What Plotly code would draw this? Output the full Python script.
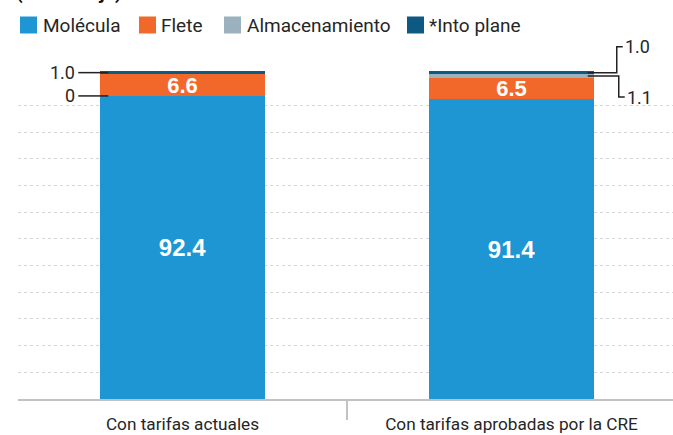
import plotly.graph_objects as go

# ---------------- data ----------------
categories = ["Con tarifas actuales", "Con tarifas aprobadas por la CRE"]
series_names = ["Molécula", "Flete", "Almacenamiento", "*Into plane"]
molecula = [92.4, 91.4]
flete = [6.6, 6.5]
almacenamiento = [0.0, 1.1]
into_plane = [1.0, 1.0]
title_text = "(Porcentaje)"

# ---------------- styles ----------------
colors = ["#1e96d4", "#f2682b", "#9bb1bd", "#0c5a82"]
NARROW = "Roboto, Liberation Sans, sans-serif"
BOLDNUM = "Liberation Sans, Arial, sans-serif"
TXT = "#262626"

W, H = 673, 435
ML, MR, MT, MB = 18, 0, 30, 36
PLOT_W = W - ML - MR
PLOT_H = H - MT - MB
PX_PER_UNIT = 3.28
YMAX = PLOT_H / PX_PER_UNIT
CAT_PX = 329
XMIN = -0.5
XMAX = XMIN + PLOT_W / CAT_PX
BAR_W = 0.5
GRID_STEP = 26.67 / PX_PER_UNIT


def ux(px):  # pixel length -> x data units
    return px / CAT_PX


def uy(px):  # pixel length -> y data units
    return px / PX_PER_UNIT


def paper_x(px):
    return (px - ML) / PLOT_W


def paper_y(py):
    return (H - MB - py) / PLOT_H


xs = list(range(len(categories)))
series = [molecula, flete, almacenamiento, into_plane]
text_sizes = [24, 22, None, None]

fig = go.Figure()
for name, vals, col, tsize in zip(series_names, series, colors, text_sizes):
    kw = {}
    if tsize:
        kw = dict(
            text=[f"{v:.1f}" for v in vals],
            textposition="inside",
            insidetextanchor="middle",
            textangle=0,
            constraintext="none",
            textfont=dict(family=BOLDNUM, size=tsize, color="white", weight="bold"),
        )
    fig.add_trace(go.Bar(
        x=xs, y=vals, name=name, width=BAR_W,
        marker=dict(color=col, line=dict(width=0)),
        showlegend=False, hoverinfo="skip", **kw))

shapes = []
annotations = []


def fmt(v):
    return "0" if v == 0 else f"{v:.1f}"


# ---- left bar leader labels ----
le = xs[0] - BAR_W / 2
y_into_l = molecula[0] + flete[0] + almacenamiento[0] + into_plane[0] / 2
y_alm_l = molecula[0]
for yv, val in [(y_into_l, into_plane[0]), (y_alm_l, almacenamiento[0])]:
    shapes.append(dict(type="line", xref="x", yref="y",
                       x0=le - ux(22), x1=le + ux(8), y0=yv, y1=yv,
                       line=dict(color="#222", width=1.5)))
    annotations.append(dict(xref="x", yref="y", x=le - ux(23), y=yv,
                            text=fmt(val), showarrow=False, xanchor="right",
                            yanchor="middle",
                            font=dict(family=NARROW, size=18, color=TXT)))

# ---- right bar leader labels ----
re_ = xs[1] + BAR_W / 2
y_into_r = molecula[1] + flete[1] + almacenamiento[1] + into_plane[1] / 2
y_alm_r = molecula[1] + flete[1] + almacenamiento[1] / 2
for yv, val, dy, elbow in [(y_into_r, into_plane[1], 26, 23),
                            (y_alm_r, almacenamiento[1], -21, 25)]:
    ylab = yv + uy(dy)
    path = (f"M {re_ - ux(6)},{yv} L {re_ + ux(elbow)},{yv} "
            f"L {re_ + ux(elbow)},{ylab} L {re_ + ux(elbow + 6)},{ylab}")
    shapes.append(dict(type="path", xref="x", yref="y", path=path,
                       line=dict(color="#222", width=1.5)))
    annotations.append(dict(xref="x", yref="y", x=re_ + ux(elbow + 6), y=ylab,
                            text=fmt(val), showarrow=False, xanchor="left",
                            yanchor="middle",
                            font=dict(family=NARROW, size=18, color=TXT)))

# ---- custom legend ----
sq_x = [20, 139, 224, 407]
tx_x = [41, 159, 245, 427]
for name, col, sx, tx in zip(series_names, colors, sq_x, tx_x):
    shapes.append(dict(type="rect", xref="paper", yref="paper",
                       x0=paper_x(sx), x1=paper_x(sx + 17),
                       y0=paper_y(33.5), y1=paper_y(16.5),
                       fillcolor=col, line=dict(width=0)))
    annotations.append(dict(xref="paper", yref="paper", x=paper_x(tx), y=paper_y(25),
                            text=name, showarrow=False, xanchor="left",
                            yanchor="middle",
                            font=dict(family=NARROW, size=19, color=TXT)))

# ---- cropped title ----
annotations.append(dict(xref="paper", yref="paper", x=paper_x(14), y=paper_y(-8),
                        text=f"<b>{title_text}</b>", showarrow=False,
                        xanchor="left", yanchor="middle",
                        font=dict(family=NARROW, size=19, color="#111")))

fig.update_layout(
    width=W, height=H, autosize=False,
    margin=dict(l=ML, r=MR, t=MT, b=MB, pad=0, autoexpand=False),
    paper_bgcolor="white", plot_bgcolor="white",
    barmode="stack", bargap=0,
    shapes=shapes, annotations=annotations,
    xaxis=dict(range=[XMIN, XMAX], tickmode="array", tickvals=xs,
               ticktext=categories, ticks="", showgrid=False, zeroline=False,
               automargin=False,
               showline=True, linecolor="#c2c2c2", linewidth=2,
               tickfont=dict(family=NARROW, size=17.2, color=TXT),
               ticklabelstandoff=8,
               minor=dict(tickmode="array", tickvals=[0.5], ticks="outside",
                          ticklen=19, tickwidth=2, tickcolor="#c2c2c2",
                          showgrid=False)),
    yaxis=dict(range=[0, YMAX], tickmode="array",
               tickvals=[GRID_STEP * k for k in range(1, 12)],
               automargin=False,
               showticklabels=False, ticks="", zeroline=False, showline=False,
               showgrid=True, gridcolor="#d6d6d6", gridwidth=1,
               griddash="3px,3px"),
)

fig.write_html("out.html",
               config={"displayModeBar": False, "staticPlot": True},
               post_script="document.body.style.margin='0';"
                           "document.body.style.overflow='hidden';")
